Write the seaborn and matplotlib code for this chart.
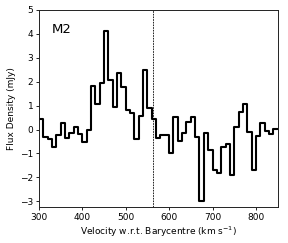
import numpy as np
import pandas as pd
import matplotlib
matplotlib.use('Agg')
import matplotlib.pyplot as plt
import seaborn as sns

# left edges of the 10 km/s channels
velocity = [300, 310, 320, 330, 340, 350, 360, 370, 380, 390,
            400, 410, 420, 430, 440, 450, 460, 470, 480, 490,
            500, 510, 520, 530, 540, 550, 560, 570, 580, 590,
            600, 610, 620, 630, 640, 650, 660, 670, 680, 690,
            700, 710, 720, 730, 740, 750, 760, 770, 780, 790,
            800, 810, 820, 830, 840]
flux = [0.45, -0.3, -0.4, -0.73, -0.24, 0.27, -0.36, -0.16, 0.12, -0.2,
        -0.52, -0.03, 1.8, 1.05, 1.96, 4.13, 2.08, 0.93, 2.38, 1.76,
        0.83, 0.68, -0.39, 0.56, 2.49, 0.9, 0.46, -0.35, -0.21, -0.24,
        -0.97, 0.51, -0.47, -0.14, 0.31, 0.53, -0.31, -2.99, -0.15, -0.87,
        -1.69, -1.83, -0.71, -0.59, -1.92, 0.12, 0.73, 1.07, -0.11, -1.71,
        -0.26, 0.29, -0.04, -0.17, 0.03]
channel_width = 10
v_sys = 563
label = 'M2'

sns.set_theme(style='ticks', rc={'text.color': 'black', 'axes.labelcolor': 'black',
                                 'xtick.color': 'black', 'ytick.color': 'black'})
plt.rcParams['font.family'] = ['DejaVu Sans']

# close the last channel so the step reaches its right edge
df = pd.DataFrame({'v': velocity + [velocity[-1] + channel_width],
                   'f': flux + [flux[-1]]})

fig = plt.figure(figsize=(2.88, 2.43), dpi=100)
ax = fig.add_axes([0.135, 0.147, 0.829, 0.812])
sns.lineplot(data=df, x='v', y='f', drawstyle='steps-post', color='black',
             linewidth=1.5, ax=ax)
ax.axvline(v_sys, color='black', linestyle='--', linewidth=0.6, dashes=(2, 1.2))

ax.set_xlim(300, 850)
ax.set_ylim(-3.25, 5)
ax.set_xticks([300, 400, 500, 600, 700, 800])
ax.set_yticks([-3, -2, -1, 0, 1, 2, 3, 4, 5])
ax.set_yticklabels(['\u22123', '\u22122', '\u22121', '0', '1', '2', '3', '4', '5'])
ax.tick_params(labelsize=6.5, length=2.5, width=0.6, pad=1.5)
for s in ax.spines.values():
    s.set_linewidth(0.7)
    s.set_color('#222222')
ax.set_xlabel('Velocity w.r.t. Barycentre (km s$^{-1}$)', fontsize=6.5, labelpad=2)
ax.set_ylabel('Flux Density (mJy)', fontsize=6.5, labelpad=3)
ax.text(0.055, 0.935, label, transform=ax.transAxes, fontsize=9.5,
        va='top', ha='left')

fig.savefig('out.png', dpi=100)
